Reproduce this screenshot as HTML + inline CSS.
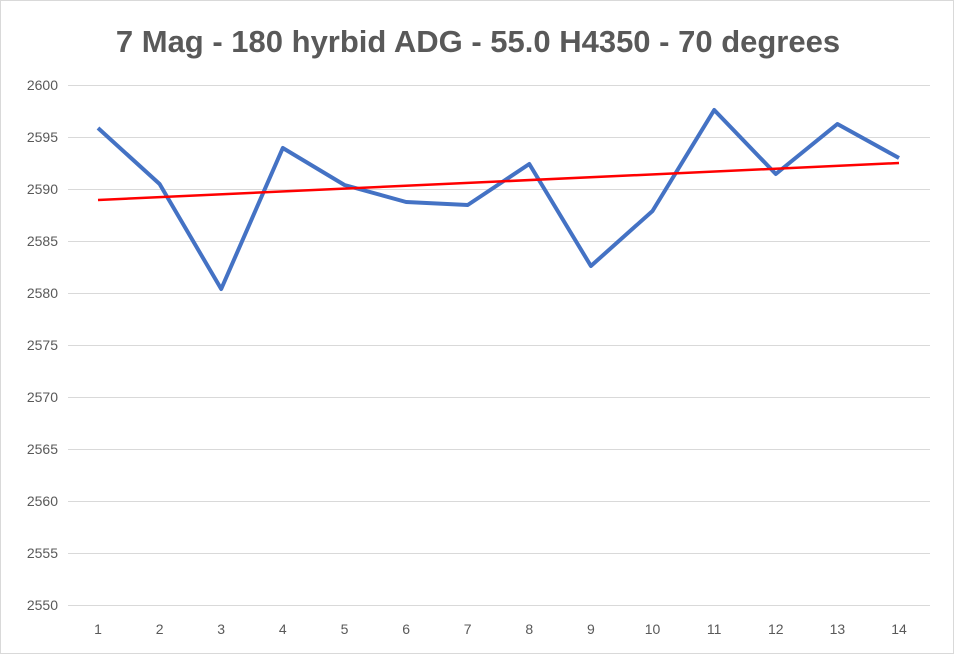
<!DOCTYPE html>
<html><head><meta charset="utf-8"><style>
html,body{margin:0;padding:0;background:#fff;}
svg{display:block;font-family:"Liberation Sans",sans-serif;}
</style></head><body>
<svg width="954" height="654" viewBox="0 0 954 654" xmlns="http://www.w3.org/2000/svg">
<rect x="0.5" y="0.5" width="953" height="653" fill="#fff" stroke="#d9d9d9"/>
<text x="478" y="52" text-anchor="middle" font-size="31" font-weight="bold" fill="#595959">7 Mag - 180 hyrbid ADG - 55.0 H4350 - 70 degrees</text>
<g stroke="#d9d9d9" stroke-width="1">
<line x1="68" y1="85.5" x2="930" y2="85.5"/>
<line x1="68" y1="137.5" x2="930" y2="137.5"/>
<line x1="68" y1="189.5" x2="930" y2="189.5"/>
<line x1="68" y1="241.5" x2="930" y2="241.5"/>
<line x1="68" y1="293.5" x2="930" y2="293.5"/>
<line x1="68" y1="345.5" x2="930" y2="345.5"/>
<line x1="68" y1="397.5" x2="930" y2="397.5"/>
<line x1="68" y1="449.5" x2="930" y2="449.5"/>
<line x1="68" y1="501.5" x2="930" y2="501.5"/>
<line x1="68" y1="553.5" x2="930" y2="553.5"/>
<line x1="68" y1="605.5" x2="930" y2="605.5"/>
</g>
<g font-size="14" fill="#595959" text-anchor="end">
<text x="58" y="90">2600</text><text x="58" y="142">2595</text><text x="58" y="194">2590</text>
<text x="58" y="246">2585</text><text x="58" y="298">2580</text><text x="58" y="350">2575</text>
<text x="58" y="402">2570</text><text x="58" y="454">2565</text><text x="58" y="506">2560</text>
<text x="58" y="558">2555</text><text x="58" y="610">2550</text>
</g>
<g font-size="14" fill="#595959" text-anchor="middle">
<text x="98" y="634">1</text><text x="159.6" y="634">2</text><text x="221.2" y="634">3</text>
<text x="282.8" y="634">4</text><text x="344.5" y="634">5</text><text x="406.1" y="634">6</text>
<text x="467.7" y="634">7</text><text x="529.3" y="634">8</text><text x="590.9" y="634">9</text>
<text x="652.5" y="634">10</text><text x="714.2" y="634">11</text><text x="775.8" y="634">12</text>
<text x="837.4" y="634">13</text><text x="899" y="634">14</text>
</g>
<polyline fill="none" stroke="#4472c4" stroke-width="4" stroke-linejoin="round" points="98,128 159.6,184 221.2,289 282.8,148 344.5,185 406.1,202 467.7,205 529.3,164 590.9,266 652.5,211 714.2,110 775.8,174 837.4,124 899,158"/>
<line x1="98" y1="200" x2="899" y2="163" stroke="#ff0000" stroke-width="2.5"/>
</svg>
</body></html>
